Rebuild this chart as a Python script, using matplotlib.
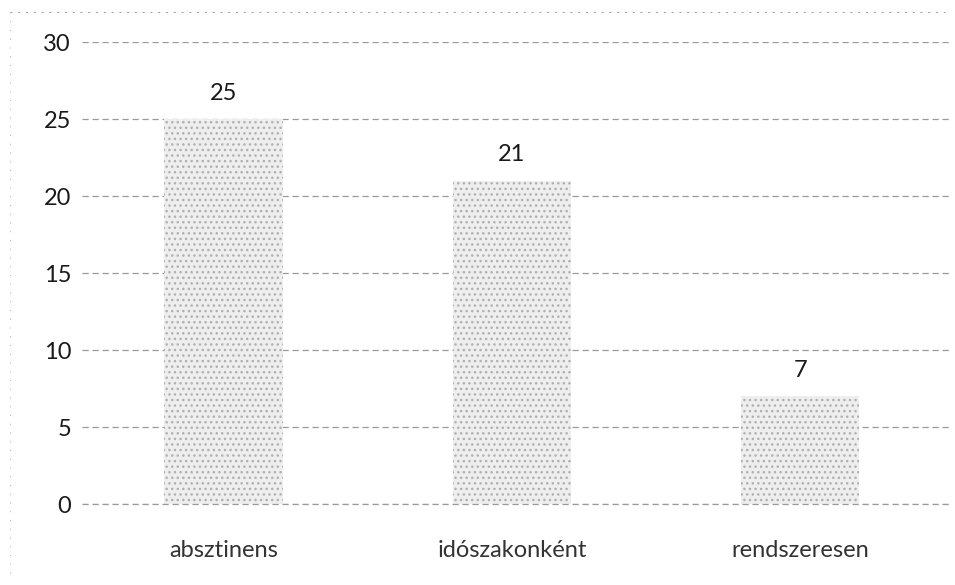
import matplotlib
matplotlib.use("Agg")
import matplotlib.pyplot as plt

categories = ["absztinens", "idószakonként", "rendszeresen"]
values = [25, 21, 7]
yticks = [0, 5, 10, 15, 20, 25, 30]

plt.rcParams['font.family'] = ['Lato', 'DejaVu Sans']
plt.rcParams['hatch.color'] = '#b0b0b0'
plt.rcParams['hatch.linewidth'] = 1.0

fig = plt.figure(figsize=(9.55, 5.85), dpi=100)
ax = fig.add_axes([0.086, 0.138, 0.909, 0.79])

x = list(range(len(categories)))
bars = ax.bar(x, values, width=0.41, color='#eeeeee', hatch='...',
              edgecolor='#b0b0b0', linewidth=0, zorder=2)

for xi, v in zip(x, values):
    ax.annotate(str(v), (xi, v), xytext=(0, 11), textcoords='offset points',
                ha='center', va='bottom', fontsize=17, color='#1a1a1a')

ax.set_ylim(0, 30)
ax.set_xlim(-0.49, 2.52)
ax.set_yticks(yticks)
ax.set_yticklabels([str(t) for t in yticks])
ax.set_xticks(x)
ax.set_xticklabels(categories)
ax.tick_params(axis='both', length=0, labelsize=17, colors='#1a1a1a')
ax.tick_params(axis='x', labelcolor='#333333')
ax.tick_params(axis='y', pad=8)
ax.tick_params(axis='x', pad=26)

ax.yaxis.grid(True, linestyle=(0, (5, 3)), color='#9a9a9a', linewidth=0.9, zorder=1)
ax.axhline(0, linestyle=(0, (5, 3)), color='#9a9a9a', linewidth=0.9, zorder=3, clip_on=False)
ax.set_axisbelow(True)
for s in ax.spines.values():
    s.set_visible(False)

# faint scan frame
fig.add_artist(plt.Line2D([0.01, 0.99], [0.98, 0.98], transform=fig.transFigure,
                          color='#9a9a9a', linestyle=(0, (2, 6)), linewidth=0.7))
fig.add_artist(plt.Line2D([0.01, 0.01], [0.02, 0.98], transform=fig.transFigure,
                          color='#b0b0b0', linestyle=(0, (1, 8)), linewidth=0.7))

fig.savefig("out.png", dpi=100)
